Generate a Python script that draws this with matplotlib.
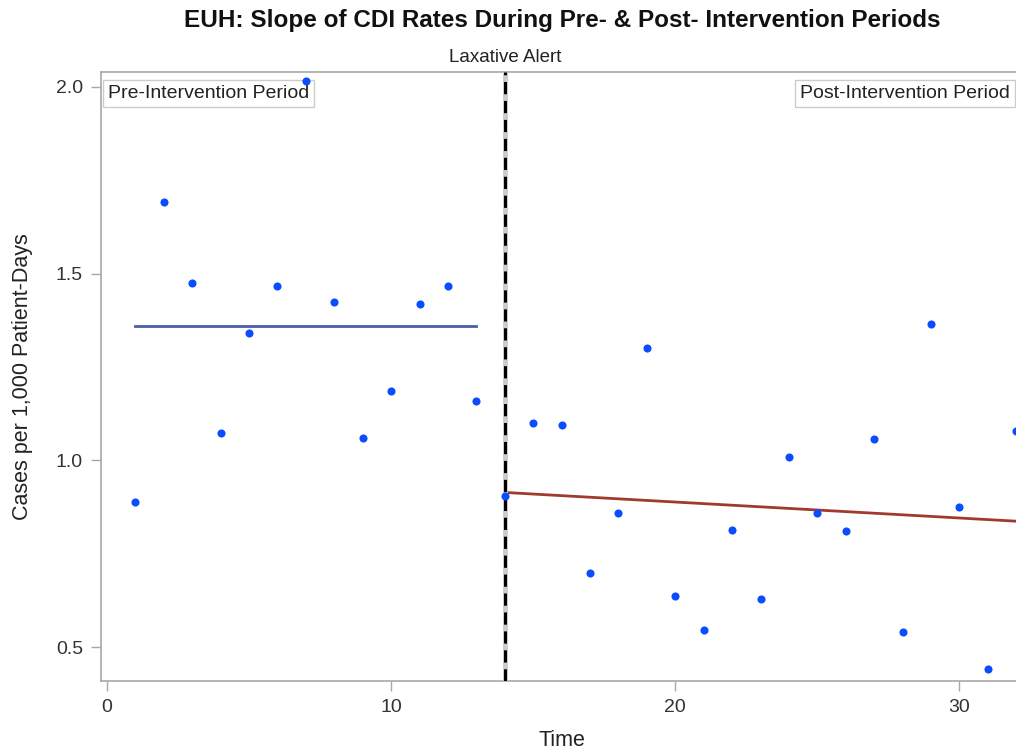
import matplotlib.pyplot as plt
import numpy as np

plt.rcParams['font.family'] = ['Liberation Sans', 'DejaVu Sans']

# monthly CDI rates
time = np.arange(1, 33)
rates = [0.888, 1.692, 1.476, 1.072, 1.342, 1.468, 2.016, 1.425, 1.059, 1.187,
         1.420, 1.468, 1.160, 0.904, 1.099, 1.094, 0.698, 0.858, 1.302, 0.636,
         0.545, 0.813, 0.628, 1.008, 0.858, 0.810, 1.056, 0.540, 1.364, 0.874,
         0.441, 1.078]

intervention = 14
pre_fit_x = [1, 13]
pre_fit_y = [1.361, 1.361]
post_fit_x = [14, 32]
post_fit_y = [0.914, 0.837]

fig = plt.figure(figsize=(10.16, 7.54), dpi=100)
ax = fig.add_axes([0.0994, 0.0968, 0.9065, 0.8077])

ax.plot(pre_fit_x, pre_fit_y, color='#4a5ea6', lw=2.0, zorder=2)
ax.plot(post_fit_x, post_fit_y, color='#a03a2c', lw=2.0, zorder=2)
ax.scatter(time, rates, s=34, color='#0a4cff', zorder=6, clip_on=False, linewidths=0)

# laxative alert reference line
ax.axvline(intervention, color='#cccccc', lw=3.5, zorder=3)
ax.axvline(intervention, color='black', lw=2.2, ls=(0, (4, 2.2)), zorder=3)
ax.text(intervention, 2.056, 'Laxative Alert', ha='center', va='bottom',
        fontsize=13.5, color='#222222')

ax.set_xlim(-0.21, 32.2)
ax.set_ylim(0.409, 2.04)
ax.set_xticks([0, 10, 20, 30])
ax.set_yticks([0.5, 1.0, 1.5, 2.0])
ax.set_yticklabels(['0.5', '1.0', '1.5', '2.0'])

for side in ['left', 'bottom', 'top']:
    ax.spines[side].set_color('#a8a8a8')
    ax.spines[side].set_linewidth(1.2)
ax.spines['right'].set_visible(False)
ax.tick_params(colors='#a8a8a8', labelcolor='#333333', labelsize=14, length=7, width=1)
ax.tick_params(axis='x', pad=6)
ax.tick_params(axis='y', pad=6)

ax.set_xlabel('Time', fontsize=15.5, color='#222222', labelpad=10)
ax.set_ylabel('Cases per 1,000 Patient-Days', fontsize=15.5, color='#222222')
ax.yaxis.set_label_coords(-0.074, 0.5)

box = dict(boxstyle='square,pad=0.25', fc='white', ec='#cccccc', lw=1)
ax.text(0.008, 0.979, 'Pre-Intervention Period', transform=ax.transAxes,
        ha='left', va='top', fontsize=14, color='#222222', bbox=box, zorder=5)
ax.text(0.987, 0.979, 'Post-Intervention Period', transform=ax.transAxes,
        ha='right', va='top', fontsize=14, color='#222222', bbox=box, zorder=5)

fig.text(0.553, 0.973, 'EUH: Slope of CDI Rates During Pre- & Post- Intervention Periods',
         ha='center', va='center', fontsize=17.5, fontweight='bold', color='#111111')

fig.savefig('out.png', dpi=100)
